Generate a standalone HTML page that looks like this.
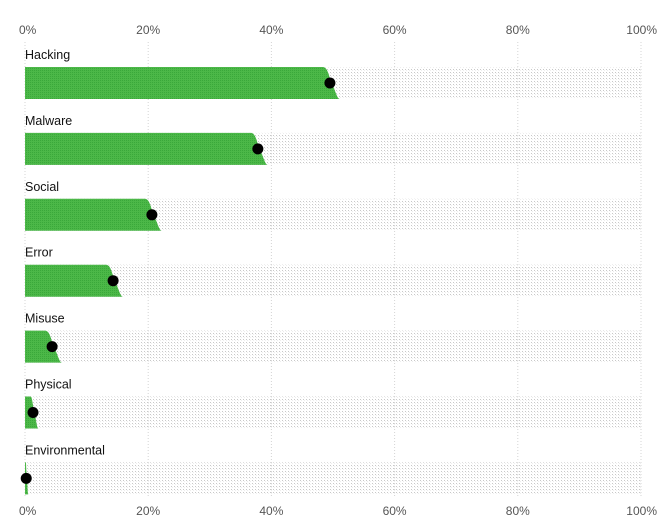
<!DOCTYPE html>
<html><head><meta charset="utf-8"><style>
body{margin:0;background:#fff;font-family:"Liberation Sans",sans-serif}
svg{display:block}
</style></head><body>
<svg id="chart" width="665" height="530">
<defs>
<pattern id="dots" width="3" height="3" patternUnits="userSpaceOnUse">
<rect x="0" y="0" width="1" height="1" fill="#c8c8c8"/>
<rect x="1" y="1" width="1" height="1" fill="#eeeeee"/>
</pattern>
<pattern id="gdots" width="2" height="2" patternUnits="userSpaceOnUse">
<rect width="2" height="2" fill="#4cb848"/>
<rect width="1" height="1" fill="#3aa83a"/>
</pattern>
</defs>
<g id="grid"></g>
<g id="rows"></g>
<g id="ticks"></g>
</svg>
<script>
const categories=["Hacking","Malware","Social","Error","Misuse","Physical","Environmental"];
const values=[49.5,37.8,20.6,14.3,4.4,1.3,0.2];
const tickValues=[0,20,40,60,80,100];
const tickLabels=["0%","20%","40%","60%","80%","100%"];
const NS="http://www.w3.org/2000/svg";
const x0=25,x1=641,rowTop=67,rowStep=65.9,barH=32;
const xs=v=>x0+(x1-x0)*v/100;
function mk(t,a,p){const e=document.createElementNS(NS,t);for(const k in a)e.setAttribute(k,a[k]);p.appendChild(e);return e;}
const rows=document.getElementById('rows'),grid=document.getElementById('grid'),ticks=document.getElementById('ticks');
categories.forEach((c,i)=>{
 const y=rowTop+i*rowStep;
 const bg=mk('rect',{x:x0,y:y,width:x1-x0,height:barH,fill:'url(#dots)'},rows);
 
 
 const lab=mk('text',{x:x0,y:y-8,'font-size':12.5,fill:'#111'},rows);
 lab.textContent=c;
 
 
 const vx=xs(values[i]);
 const w=vx-x0;
 const lo=Math.min(7,w*0.3),hi=Math.min(10,1.5+w*0.5);
 const a=vx-lo,b=vx+hi;
 const d=`M${x0},${y} L${a},${y} C${a+lo*0.7},${y} ${a+lo*0.9},${y+10} ${(a+b)/2},${y+barH/2} C${b-hi*0.4},${y+24} ${b-hi*0.3},${y+barH} ${b},${y+barH} L${x0},${y+barH} Z`;
 const bar=mk('path',{d:d,fill:'url(#gdots)'},rows);
 
 
 const dot=mk('circle',{cx:vx,cy:y+barH/2,r:5.5,fill:'#000'},rows);
 
 
});
tickValues.forEach((t,i)=>{
 const x=xs(t);
 const ln=mk('line',{x1:x,x2:x,y1:42,y2:498,stroke:'#d4d4d4','stroke-width':1,'stroke-dasharray':'1,2'},grid);
 
 
 const anchor=i==tickValues.length-1?'end':(i==0?'start':'middle');
 const tx=i==0?x-6:(i==tickValues.length-1?x+16:x);
 [34,515].forEach((yy,j)=>{
  const tl=mk('text',{x:tx,y:yy,'font-size':12,fill:'#555','text-anchor':anchor},ticks);
  tl.textContent=tickLabels[i];
  
  
 });
});
</script>
</body></html>
